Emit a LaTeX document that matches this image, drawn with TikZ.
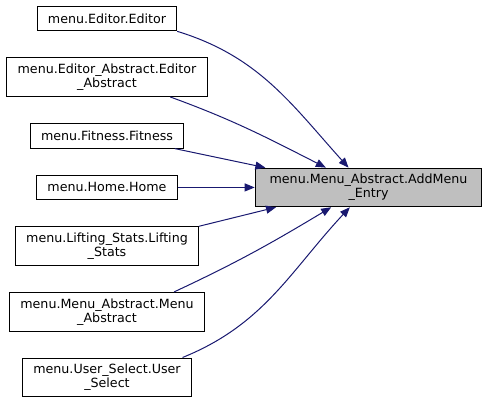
\documentclass[tikz,border=0pt]{standalone}
\usepackage{fontspec}
\setmainfont{DejaVu Sans}
\usetikzlibrary{arrows.meta,positioning}
\definecolor{edgeblue}{HTML}{191970}
\definecolor{targetgray}{HTML}{BFBFBF}

\begin{document}
\begin{tikzpicture}[x=0.75pt,y=0.75pt,->,>={Triangle[length=7.5pt,width=6pt]},
  node distance=19.5pt,line width=0.75pt,
  fn node/.style={draw,black,align=center,inner xsep=8pt,inner ysep=4.5pt,
    minimum height=18.5pt,font=\fontsize{9.5}{10.5}\selectfont},
  target node/.style={fn node,fill=targetgray,minimum width=170pt}]

  \useasboundingbox (0,0) rectangle (488,-402);

  \node[fn node] (editor) at (107,-18.5) {menu.Editor.Editor};
  \node[fn node] (editorabs) [below=of editor] {menu.Editor\_Abstract.Editor\\\_Abstract};
  \node[fn node] (fitness) [below=of editorabs] {menu.Fitness.Fitness};
  \node[fn node] (home) [below=of fitness] {menu.Home.Home};
  \node[fn node] (lifting) [below=of home] {menu.Lifting\_Stats.Lifting\\\_Stats};
  \node[fn node] (menuabs) [below=of lifting] {menu.Menu\_Abstract.Menu\\\_Abstract};
  \node[fn node] (userselect) [below=of menuabs] {menu.User\_Select.User\\\_Select};
  \node[target node] (addentry) [right=57.75pt of home] {menu.Menu\_Abstract.AddMenu\\\_Entry};

  \path[every edge/.append style={draw=edgeblue}]
    (editor.south east) edge [out=-17,in=132] ([xshift=-15pt]addentry.north)
    ([xshift=-28pt]editorabs.south east) edge [out=-20,in=153] ([xshift=-32pt]addentry.north)
    ([xshift=-7pt]fitness.south east) edge ([xshift=8pt]addentry.north west)
    (home) edge (addentry)
    (lifting.north east) edge ([xshift=16pt]addentry.south west)
    ([xshift=-23pt]menuabs.north east) edge [out=25,in=-149] ([xshift=-28pt]addentry.south)
    ([xshift=-7pt]userselect.north east) edge [out=22,in=-133] ([xshift=-14pt]addentry.south);
\end{tikzpicture}
\end{document}
